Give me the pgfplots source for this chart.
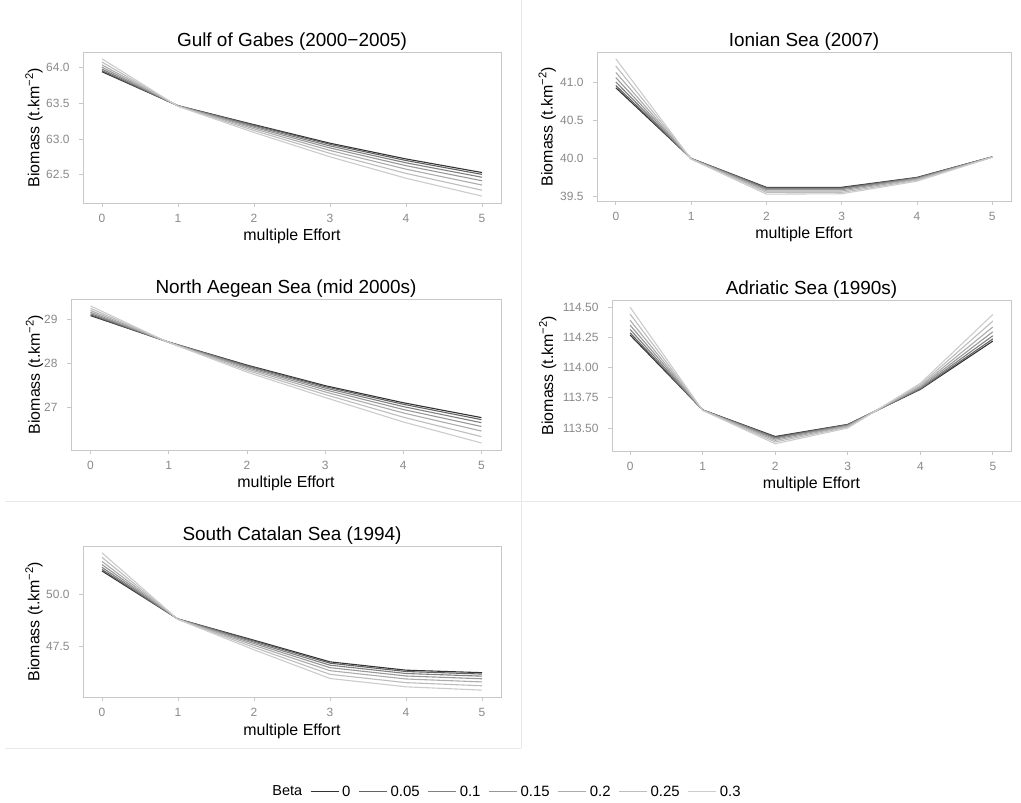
\documentclass[border=0pt]{standalone}
\usepackage{pgfplots}
\pgfplotsset{compat=1.18}
\usepackage{pgfplotstable}
\usepackage{fontspec}
\setmainfont{Liberation Sans}

\definecolor{bA}{gray}{0.20}
\definecolor{bB}{gray}{0.39}
\definecolor{bC}{gray}{0.506}
\definecolor{bD}{gray}{0.596}
\definecolor{bE}{gray}{0.673}
\definecolor{bF}{gray}{0.740}
\definecolor{bG}{gray}{0.80}
\definecolor{tickgray}{HTML}{8A8A8A}
\definecolor{framegray}{HTML}{C8C8C8}
\definecolor{bordergray}{HTML}{E8E8E8}

% columns: x, beta=0, 0.05, 0.1, 0.15, 0.2, 0.25, 0.3
\pgfplotstableread{
x  a       b       c       d       e       f       g
0  63.940  63.954  63.976  64.003  64.035  64.075  64.120
1  63.465  63.464  63.463  63.462  63.460  63.458  63.455
2  63.200  63.191  63.178  63.162  63.142  63.118  63.090
3  62.940  62.925  62.902  62.874  62.839  62.798  62.750
4  62.720  62.698  62.666  62.626  62.577  62.518  62.450
5  62.530  62.504  62.464  62.415  62.355  62.283  62.200
}\gabes

\pgfplotstableread{
x  a       b       c       d       e       f       g
0  40.930  40.960  41.006  41.063  41.131  41.215  41.310
1  40.000  39.999  39.998  39.997  39.995  39.993  39.990
2  39.620  39.613  39.602  39.589  39.572  39.553  39.530
3  39.620  39.613  39.602  39.589  39.572  39.553  39.535
4  39.750  39.746  39.740  39.733  39.724  39.713  39.700
5  40.020  40.020  40.019  40.018  40.017  40.016  40.015
}\ionian

\pgfplotstableread{
x  a       b       c       d       e       f       g
0  29.090  29.108  29.134  29.167  29.207  29.255  29.310
1  28.485  28.484  28.483  28.481  28.479  28.477  28.475
2  27.960  27.947  27.928  27.904  27.875  27.840  27.800
3  27.490  27.468  27.436  27.396  27.347  27.288  27.220
4  27.100  27.065  27.012  26.946  26.867  26.770  26.660
5  26.760  26.714  26.644  26.557  26.453  26.325  26.180
}\aegean

\pgfplotstableread{
x  a        b        c        d        e        f        g
0  114.270  114.288  114.316  114.351  114.392  114.443  114.500
1  113.650  113.650  113.649  113.649  113.648  113.647  113.646
2  113.430  113.425  113.418  113.409  113.398  113.385  113.370
3  113.530  113.528  113.524  113.520  113.514  113.508  113.500
4  113.820  113.824  113.830  113.838  113.847  113.858  113.870
5  114.220  114.238  114.264  114.297  114.337  114.385  114.440
}\adriatic

\pgfplotstableread{
x  a       b       c       d       e       f       g
0  51.110  51.180  51.284  51.415  51.571  51.763  51.980
1  48.800  48.798  48.795  48.792  48.788  48.784  48.780
2  47.780  47.743  47.688  47.619  47.536  47.435  47.320
3  46.740  46.676  46.580  46.460  46.316  46.140  45.940
4  46.340  46.276  46.180  46.060  45.916  45.740  45.540
5  46.220  46.153  46.052  45.926  45.775  45.590  45.380
}\catalan

\pgfplotsset{
  panel/.style={
    scale only axis,
    axis line style={framegray, line width=0.8bp},
    tick style={framegray, line width=0.8bp},
    tick align=outside,
    major tick length=4bp,
    xtick pos=bottom, ytick pos=left,
    xmin=-0.25, xmax=5.25,
    xtick={0,1,2,3,4,5},
    /pgf/number format/assume math mode=true,
    ticklabel style={font=\fontsize{12}{13}\selectfont, text=tickgray},
    xticklabel style={yshift=-4bp},
    yticklabel style={xshift=-6bp},
    title style={font=\fontsize{19}{19}\selectfont, at={(axis description cs:0.5,1)}, anchor=base, yshift=-0.5bp},
    xlabel={multiple Effort},
    xlabel style={font=\fontsize{16}{16}\selectfont, at={(axis description cs:0.5,0)}, anchor=base, yshift=-38bp},
    ylabel={Biomass (t.km\textsuperscript{\char"2212 2})},
    ylabel style={font=\fontsize{16}{16}\selectfont, anchor=center},
    every axis plot/.append style={line width=1.1bp, no markers},
    cycle list={{bA},{bB},{bC},{bD},{bE},{bF},{bG}},
  },
}

\newcommand{\drawall}[1]{%
  \addplot table[x=x,y=a]{#1};
  \addplot table[x=x,y=b]{#1};
  \addplot table[x=x,y=c]{#1};
  \addplot table[x=x,y=d]{#1};
  \addplot table[x=x,y=e]{#1};
  \addplot table[x=x,y=f]{#1};
  \addplot table[x=x,y=g]{#1};
}

\begin{document}
\begin{tikzpicture}
\useasboundingbox (0,0) rectangle (1021bp,803bp);
\fill[white] (0,0) rectangle (1021bp,803bp);
% panel borders
\draw[bordergray, line width=0.8bp] (521bp,803bp) -- (521bp,55bp);
\draw[bordergray, line width=0.8bp] (5bp,302bp) -- (1021bp,302bp);
\draw[bordergray, line width=0.8bp] (5bp,55bp) -- (521bp,55bp);

% Gulf of Gabes
\begin{axis}[panel, at={(83bp,751bp)}, anchor=north west, width=418bp, height=151bp,
  title={Gulf of Gabes (2000\char"2212 2005)},
  ymin=62.104, ymax=64.216, ytick={62.5,63,63.5,64},
  yticklabel style={/pgf/number format/.cd, fixed, fixed zerofill, precision=1},
  ylabel style={at={(axis description cs:-0.117,0.5)}}]
\drawall{\gabes}
\end{axis}

% Ionian Sea
\begin{axis}[panel, at={(597bp,751bp)}, anchor=north west, width=414bp, height=149bp,
  title={Ionian Sea (2007)},
  ymin=39.44, ymax=41.40, ytick={39.5,40,40.5,41},
  yticklabel style={/pgf/number format/.cd, fixed, fixed zerofill, precision=1},
  ylabel style={at={(axis description cs:-0.12,0.5)}}]
\drawall{\ionian}
\end{axis}

% North Aegean Sea
\begin{axis}[panel, at={(71bp,504bp)}, anchor=north west, width=430bp, height=151bp,
  title={North Aegean Sea (mid 2000s)},
  ymin=26.02, ymax=29.47, ytick={27,28,29},
  yticklabel style={/pgf/number format/.cd, fixed, precision=0},
  ylabel style={at={(axis description cs:-0.085,0.5)}}]
\drawall{\aegean}
\end{axis}

% Adriatic Sea
\begin{axis}[panel, at={(612bp,503bp)}, anchor=north west, width=399bp, height=151bp,
  title={Adriatic Sea (1990s)},
  ymin=113.31, ymax=114.56, ytick={113.5,113.75,114,114.25,114.5},
  yticklabel style={/pgf/number format/.cd, fixed, fixed zerofill, precision=2},
  ylabel style={at={(axis description cs:-0.161,0.5)}}]
\drawall{\adriatic}
\end{axis}

% South Catalan Sea
\begin{axis}[panel, at={(83bp,257bp)}, anchor=north west, width=418bp, height=151bp,
  title={South Catalan Sea (1994)},
  ymin=45.05, ymax=52.31, ytick={47.5,50},
  yticklabel style={/pgf/number format/.cd, fixed, fixed zerofill, precision=1},
  ylabel style={at={(axis description cs:-0.117,0.5)}},
  legend columns=-1,
  legend style={at={(axis description cs:1.012,-0.627)}, anchor=center, draw=none, fill=none,
    font=\fontsize{15}{15}\selectfont,
    /tikz/every odd column/.append style={column sep=1bp},
    /tikz/every even column/.append style={column sep=6bp}},
  legend image code/.code={\draw[#1, line width=1.1bp] (0bp,0bp) -- (28bp,0bp);},
]
\addlegendimage{empty legend}
\addlegendentry{\fontsize{14.5}{14.5}\selectfont Beta}
\drawall{\catalan}
\addlegendentry{0}
\addlegendentry{0.05}
\addlegendentry{0.1}
\addlegendentry{0.15}
\addlegendentry{0.2}
\addlegendentry{0.25}
\addlegendentry{0.3}
\end{axis}
\end{tikzpicture}
\end{document}
